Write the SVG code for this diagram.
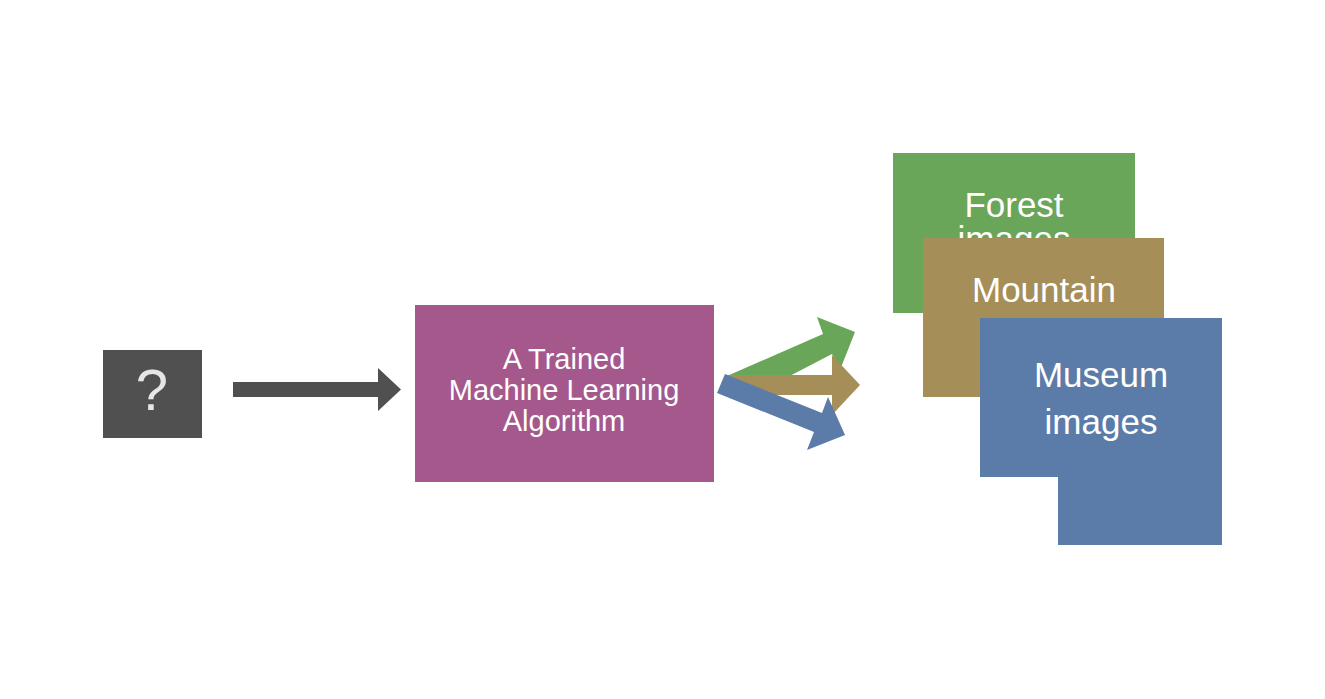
<svg xmlns="http://www.w3.org/2000/svg" width="1325" height="699" viewBox="0 0 1325 699">
<style>
text{font-family:"Liberation Sans",Arial,sans-serif;fill:#ffffff;text-anchor:middle}
.t35{font-size:35px}
.t29{font-size:29px}
</style>
<rect width="1325" height="699" fill="#ffffff"/>
<g id="unknown">
<rect x="103" y="350" width="99" height="88" fill="#505050"/>
<text x="152" y="410" style="font-size:58px;fill:#e6e6e6">?</text>
</g>
<g id="algorithm">
<rect x="415" y="305" width="299" height="177" fill="#a5588c"/>
<text class="t29" x="564" y="369">A Trained</text>
<text class="t29" x="564" y="400">Machine Learning</text>
<text class="t29" x="564" y="431">Algorithm</text>
</g>
<g id="forest">
<rect x="893" y="153" width="242" height="160" fill="#6aa65a"/>
<text class="t35" x="1014" y="217">Forest</text>
<text class="t35" x="1014" y="251">images</text>
</g>
<g id="mountain">
<rect x="923" y="238" width="241" height="159" fill="#a68e58"/>
<text class="t35" x="1044" y="302">Mountain</text>
</g>
<g id="museum">
<path d="M980 318H1222V545H1058V477H980Z" fill="#5b7ca8"/>
<text class="t35" x="1101" y="387">Museum</text>
<text class="t35" x="1101" y="434">images</text>
</g>
<g id="connectors">
<polygon points="233,382 378,382 378,368 401,389.5 378,411 378,397 233,397" fill="#505050"/>
<polygon points="727,376 823,334 817,317 855,332 840,370 832,354 782,380 727,380" fill="#6aa65a"/>
<polygon points="727,375 832,375 832,355 860,385 832,415 832,395 727,395" fill="#a68e58"/>
<polygon points="725,374 822,413 828,397 845,435 807,450 814,432 717,393" fill="#5b7ca8"/>
</g>
</svg>
